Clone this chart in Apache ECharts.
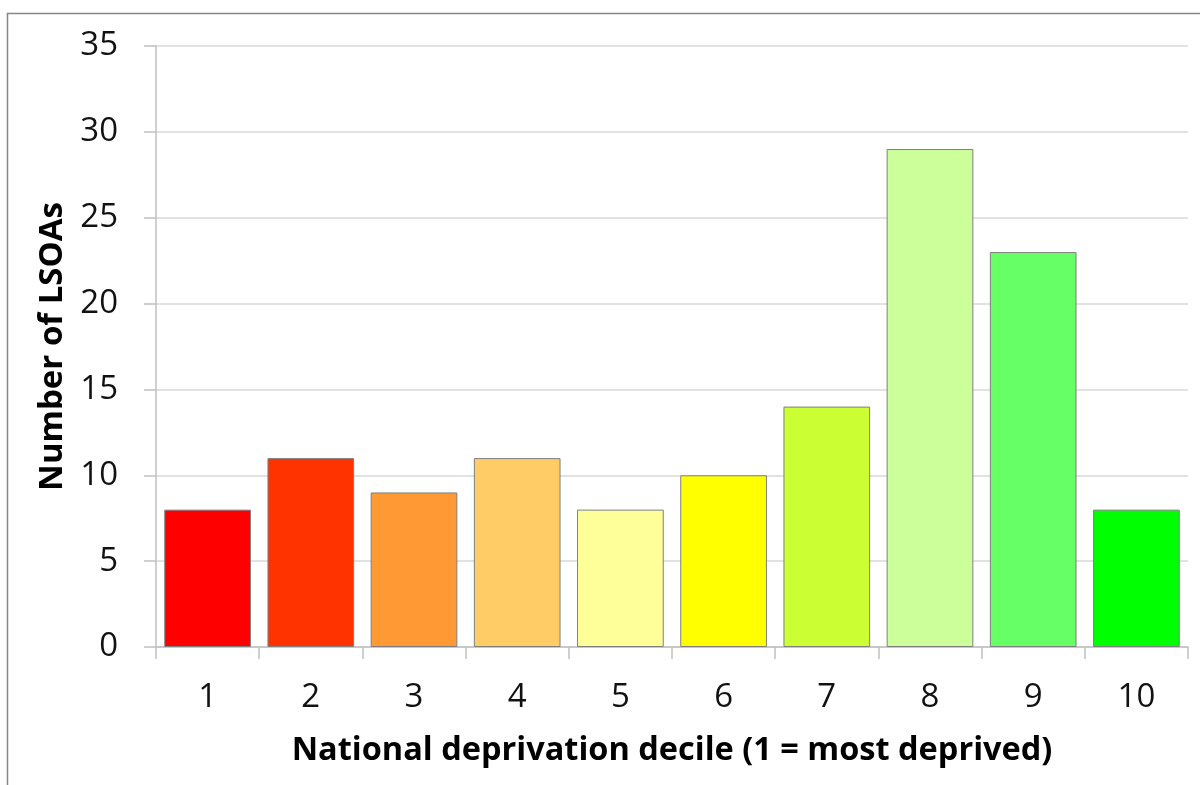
<!DOCTYPE html>
<html>
<head>
<meta charset="utf-8">
<script src="https://cdn.jsdelivr.net/npm/echarts@6/dist/echarts.min.js"></script>
<style>
  html, body { margin: 0; padding: 0; background: #fff; }
  #chart { width: 1200px; height: 785px; }
</style>
</head>
<body>
<div id="chart"></div>
<script>
// Deprivation deciles and LSOA counts
const deciles = ['1', '2', '3', '4', '5', '6', '7', '8', '9', '10'];
const lsoaCounts = [8, 11, 9, 11, 8, 10, 14, 29, 23, 8];
// Red-to-green fill for each decile
const decileColors = ['#FF0000', '#FF3300', '#FF9933', '#FFCC66', '#FFFF99',
                      '#FFFF00', '#CCFF33', '#CCFF99', '#66FF66', '#00FF00'];
const yTicks = { min: 0, max: 35, interval: 5 };

const FONT = '"Open Sans", sans-serif';
const chart = echarts.init(document.getElementById('chart'));

chart.setOption({
  animation: false,
  backgroundColor: '#ffffff',
  graphic: [{
    type: 'rect',
    shape: { x: 7.5, y: 13.5, width: 1300, height: 900 },
    style: { fill: 'none', stroke: '#868686', lineWidth: 1.5 },
    silent: true
  }],
  grid: { left: 156, right: 12, top: 46, bottom: 138 },
  xAxis: {
    type: 'category',
    data: deciles,
    name: 'National deprivation decile (1 = most deprived)',
    nameLocation: 'middle',
    nameGap: 87,
    nameTextStyle: { fontFamily: FONT, fontWeight: 'bold', fontSize: 32.5, color: '#000' },
    axisLine: { lineStyle: { color: '#c0c0c0', width: 1.5 } },
    axisTick: { show: true, length: 12, lineStyle: { color: '#c0c0c0', width: 1.5 } },
    axisLabel: { fontFamily: FONT, fontSize: 33, color: '#111', margin: 34 }
  },
  yAxis: {
    type: 'value',
    min: yTicks.min,
    max: yTicks.max,
    interval: yTicks.interval,
    name: 'Number of LSOAs',
    nameLocation: 'middle',
    nameGap: 84,
    nameRotate: 90,
    nameTextStyle: { fontFamily: FONT, fontWeight: 'bold', fontSize: 33, color: '#000' },
    axisLine: { show: true, lineStyle: { color: '#c0c0c0', width: 1.5 } },
    axisTick: { show: true, length: 12, lineStyle: { color: '#c0c0c0', width: 1.5 } },
    splitLine: { show: true, lineStyle: { color: '#d9d9d9', width: 1.5 } },
    axisLabel: { fontFamily: FONT, fontSize: 33, color: '#111', margin: 38 }
  },
  series: [{
    type: 'bar',
    data: lsoaCounts.map((v, i) => ({
      value: v,
      itemStyle: { color: decileColors[i] }
    })),
    barCategoryGap: '16%',
    itemStyle: { borderColor: '#7f7f7f', borderWidth: 1 }
  }]
});
</script>
</body>
</html>
